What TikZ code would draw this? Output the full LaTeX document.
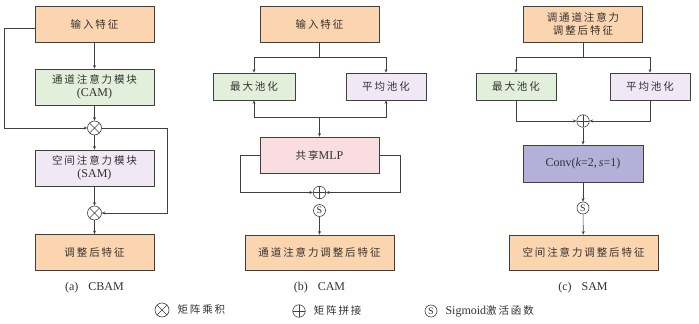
\documentclass[tikz,border=0pt]{standalone}
\usepackage{fontspec}
\setmainfont{Liberation Serif}
\newfontfamily\cjk{Noto Sans CJK SC}[LetterSpace=18]
\usepackage{xcolor}
\usetikzlibrary{positioning,arrows.meta,calc}
\definecolor{linec}{RGB}{64,64,64}
\definecolor{txtc}{RGB}{50,50,50}
\definecolor{featorange}{RGB}{251,213,176}
\definecolor{camgreen}{RGB}{226,239,218}
\definecolor{samlilac}{RGB}{240,233,245}
\definecolor{mlppink}{RGB}{249,221,225}
\definecolor{convpurple}{RGB}{181,176,218}
\newcommand{\latn}[1]{{\rmfamily\fontsize{12}{13.5}\selectfont #1}}
\tikzset{
  blk/.style={draw=linec, line width=0.8pt, minimum width=119pt, minimum height=36pt,
              align=center, text=txtc, font=\fontsize{10.5}{13.5}\selectfont\cjk, inner sep=1pt},
  feat/.style={blk, fill=featorange},
  wide/.style={feat, minimum width=149pt, minimum height=35pt},
  pool/.style={blk, minimum width=80pt, minimum height=27pt},
  conn/.style={-{Stealth[length=3.5pt,width=3pt]}, draw=linec, line width=0.6pt},
  mul/.style={circle, draw=linec, line width=0.6pt, minimum size=14pt, inner sep=0pt,
              path picture={\draw[linec, line width=0.6pt]
                (path picture bounding box.north west) -- (path picture bounding box.south east)
                (path picture bounding box.south west) -- (path picture bounding box.north east);}},
  add/.style={circle, draw=linec, line width=0.6pt, minimum size=12.5pt, inner sep=0pt,
              path picture={\draw[linec, line width=0.6pt]
                (path picture bounding box.north) -- (path picture bounding box.south)
                (path picture bounding box.west) -- (path picture bounding box.east);}},
  sig/.style={circle, draw=linec, line width=0.6pt, minimum size=12pt, inner sep=0pt,
              font=\fontsize{10}{10}\selectfont, text=txtc},
  captxt/.style={font=\fontsize{12}{13}\selectfont, text=txtc},
  lbl/.style={font=\fontsize{10.5}{12}\selectfont\cjk, text=txtc, inner sep=0pt}
}

\begin{document}
\begin{tikzpicture}[x=1pt, y=-1pt]
  \useasboundingbox (0,0) rectangle (699,324);

  % (a) CBAM
  \node[feat] (inA) at (94.5,24) {输入特征};
  \node[blk, fill=camgreen] (camA) at (94.5,87) {通道注意力模块\\\latn{(CAM)}};
  \node[mul] (mulA1) at (94.5,128) {};
  \node[blk, fill=samlilac] (samA) at (94.5,168) {空间注意力模块\\\latn{(SAM)}};
  \node[mul] (mulA2) at (94.5,213) {};
  \node[feat] (outA) at (94.5,252.5) {调整后特征};
  \draw[conn] (inA) -- (camA);
  \draw[conn] (camA) -- (mulA1);
  \draw[conn] (mulA1) -- (samA);
  \draw[conn] (samA) -- (mulA2);
  \draw[conn] (mulA2) -- (outA);
  \draw[conn] ([yshift=-4pt]inA.west) -- ++(-30,0) |- (mulA1.west);
  \draw[conn] (mulA1.east) -- ++(65,0) |- (mulA2.east);
  \node[captxt] (capA) at (94.5,288) {(a)\hspace{10pt}CBAM};

  % (b) CAM
  \node[feat] (inB) at (319.5,24) {输入特征};
  \node[pool, fill=camgreen, minimum width=82pt] (maxB) at (254,86.5) {最大池化};
  \node[pool, fill=samlilac] (avgB) at (386,86.5) {平均池化};
  \node[blk, fill=mlppink] (mlpB) at (319.5,155) {共享\latn{MLP}};
  \node[add] (addB) at (319.5,192.5) {};
  \node[sig] (sigB) at (319.5,210.5) {S};
  \node[wide] (outB) at (319.5,252.5) {通道注意力调整后特征};
  \coordinate (jB) at (319.5,117);
  \draw[conn] (inB.south) -- ++(0,15) -| (maxB.north);
  \draw[conn] (inB.south) -- ++(0,15) -| (avgB.north);
  \draw[conn] (jB) -| (maxB.south);
  \draw[conn] (jB) -| (avgB.south);
  \draw[conn] (jB) -- (mlpB.north);
  \draw[conn] (mlpB.west) -- ++(-19,0) |- (addB.west);
  \draw[conn] (mlpB.east) -- ++(21,0) |- (addB.east);
  \draw[conn] (sigB) -- (outB);
  \node[captxt] (capB) at (319.5,288) {(b)\hspace{10pt}CAM};

  % (c) SAM
  \node[feat] (inC) at (583,24) {调通道注意力\\调整后特征};
  \node[pool, fill=camgreen] (maxC) at (516,86.5) {最大池化};
  \node[pool, fill=samlilac] (avgC) at (650,86.5) {平均池化};
  \node[add] (addC) at (583,121) {};
  \node[blk, fill=convpurple, minimum width=120pt, minimum height=37pt, font=\fontsize{12}{13}\selectfont] (convC) at (583,163.5) {Conv(\textit{k}=2,\,\textit{s}=1)};
  \node[sig] (sigC) at (583,208) {S};
  \node[wide] (outC) at (583.5,252.5) {空间注意力调整后特征};
  \draw[conn] (inC.south) -- ++(0,15) -| (maxC.north);
  \draw[conn] (inC.south) -- ++(0,15) -| (avgC.north);
  \draw[conn] (maxC.south) |- (addC.west);
  \draw[conn] (avgC.south) |- (addC.east);
  \draw[conn] (addC) -- (convC);
  \draw[conn] (convC) -- (sigC);
  \draw[conn] (sigC) -- (outC);
  \node[captxt] (capC) at (583,288) {(c)\hspace{10pt}SAM};

  % legend
  \node[mul] (lgMul) at (162,310) {};
  \node[lbl, right=8pt of lgMul] (lgMulT) {矩阵乘积};
  \node[add] (lgAdd) at (299,311) {};
  \node[lbl, right=8pt of lgAdd] (lgAddT) {矩阵拼接};
  \node[sig] (lgSig) at (431,311) {S};
  \node[lbl, right=8pt of lgSig] (lgSigT) {\latn{Sigmoid}激活函数};
\end{tikzpicture}
\end{document}
